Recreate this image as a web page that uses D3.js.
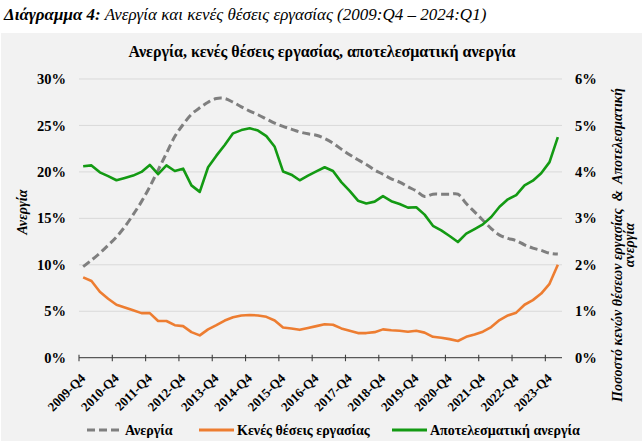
<!DOCTYPE html>
<html><head><meta charset="utf-8">
<script src="https://cdn.jsdelivr.net/npm/d3@7"></script>
<style>
html,body{margin:0;padding:0;background:#fff;}
</style></head>
<body>
<svg id="c" width="643" height="441"></svg>
<script>
const quarters = ["2009-Q4","2010-Q1","2010-Q2","2010-Q3","2010-Q4","2011-Q1","2011-Q2","2011-Q3","2011-Q4",
"2012-Q1","2012-Q2","2012-Q3","2012-Q4","2013-Q1","2013-Q2","2013-Q3","2013-Q4","2014-Q1","2014-Q2","2014-Q3","2014-Q4",
"2015-Q1","2015-Q2","2015-Q3","2015-Q4","2016-Q1","2016-Q2","2016-Q3","2016-Q4","2017-Q1","2017-Q2","2017-Q3","2017-Q4",
"2018-Q1","2018-Q2","2018-Q3","2018-Q4","2019-Q1","2019-Q2","2019-Q3","2019-Q4","2020-Q1","2020-Q2","2020-Q3","2020-Q4",
"2021-Q1","2021-Q2","2021-Q3","2021-Q4","2022-Q1","2022-Q2","2022-Q3","2022-Q4","2023-Q1","2023-Q2","2023-Q3","2023-Q4","2024-Q1"];
const tickLabels = ["2009-Q4","2010-Q4","2011-Q4","2012-Q4","2013-Q4","2014-Q4","2015-Q4","2016-Q4","2017-Q4","2018-Q4","2019-Q4","2020-Q4","2021-Q4","2022-Q4","2023-Q4"];
// Left axis (%)
const unemployment = [9.8,10.5,11.25,12.1,13.0,14.1,15.4,16.8,18.4,20.2,22.0,23.8,25.1,26.2,26.9,
27.5,27.9,27.9,27.5,27.0,26.55,26.15,25.7,25.25,24.9,24.6,24.3,24.1,23.95,
23.6,23.1,22.45,21.85,21.3,20.8,20.2,19.75,19.25,18.9,18.4,17.95,17.35,17.6,
17.6,17.6,17.6,16.6,15.7,14.8,13.9,13.2,12.85,12.6,12.15,11.8,11.55,11.25,11.15];
// Right axis (%)
const vacancies = [1.73,1.65,1.42,1.27,1.14,1.08,1.02,0.96,0.96,0.79,0.79,0.70,0.68,0.55,0.48,
0.61,0.70,0.80,0.87,0.91,0.92,0.91,0.88,0.80,0.65,0.63,0.60,0.64,0.68,
0.72,0.71,0.63,0.58,0.53,0.53,0.55,0.61,0.59,0.58,0.56,0.58,0.54,0.45,
0.43,0.40,0.36,0.45,0.50,0.56,0.66,0.81,0.91,0.97,1.14,1.24,1.38,1.59,2.0];
const effective = [4.12,4.14,3.99,3.91,3.82,3.87,3.92,4.0,4.15,3.95,4.14,4.02,4.07,3.71,3.57,
4.10,4.35,4.58,4.83,4.90,4.94,4.89,4.77,4.54,4.01,3.94,3.82,3.92,4.01,
4.10,4.02,3.78,3.59,3.38,3.32,3.36,3.48,3.37,3.31,3.23,3.24,3.08,2.84,
2.74,2.62,2.49,2.67,2.77,2.87,3.03,3.25,3.41,3.50,3.71,3.81,3.97,4.21,4.75];
const leftTicks = [0,5,10,15,20,25,30];
const rightTicks = [0,1,2,3,4,5,6];
const seriesNames = ["Ανεργία","Κενές θέσεις εργασίας","Αποτελεσματική ανεργία"];

const FONT = "'Liberation Serif', 'Times New Roman', serif";
const svg = d3.select("#c");
const L = 79, R = 562, T = 79, B = 357.7;

// background
svg.append("rect").attr("x",1).attr("y",33).attr("width",641).attr("height",408).attr("fill","#f2f2f2");

// main caption
const cap = svg.append("text").attr("x",4).attr("y",20).attr("font-size",17).attr("font-style","italic").attr("fill","#000");
cap.append("tspan").attr("font-weight","bold").text("Διάγραμμα 4:");
cap.append("tspan").text(" Ανεργία και κενές θέσεις εργασίας (2009:Q4 – 2024:Q1)");

// chart title
svg.append("text").attr("x",322).attr("y",57).attr("text-anchor","middle").attr("font-size",16)
  .attr("font-weight","bold").text("Ανεργία, κενές θέσεις εργασίας, αποτελεσματική ανεργία");

const x = d3.scaleBand().domain(quarters).range([L,R]).padding(0);
const bw = x.bandwidth();
const yL = d3.scaleLinear().domain([0,30]).range([B,T]);
const yR = d3.scaleLinear().domain([0,6]).range([B,T]);

// gridlines
svg.append("g").selectAll("line").data(leftTicks.filter(d=>d>0)).join("line")
  .attr("x1",L).attr("x2",R).attr("y1",d=>yL(d)).attr("y2",d=>yL(d))
  .attr("stroke","#d9d9d9").attr("stroke-width",1);

// left axis labels
const gl = svg.append("g").attr("transform",`translate(${L},0)`)
  .call(d3.axisLeft(yL).tickValues(leftTicks).tickSize(0).tickPadding(13).tickFormat(d=>d+"%"));
gl.select(".domain").remove();
gl.selectAll("text").attr("font-size",14.5).attr("font-weight","bold").attr("fill","#000");

// right axis labels
const gr = svg.append("g").attr("transform",`translate(${R},0)`)
  .call(d3.axisRight(yR).tickValues(rightTicks).tickSize(0).tickPadding(13).tickFormat(d=>d+"%"));
gr.select(".domain").remove();
gr.selectAll("text").attr("font-size",14.5).attr("font-weight","bold").attr("fill","#000");

// x axis
svg.append("line").attr("x1",L).attr("x2",R).attr("y1",B).attr("y2",B).attr("stroke","#595959").attr("stroke-width",1.2);
const gx = svg.append("g").attr("transform",`translate(${-bw/2},${B})`)
  .call(d3.axisBottom(x).tickValues(tickLabels).tickSize(4).tickPadding(0));
gx.select(".domain").remove();
gx.selectAll(".tick line").attr("y1",-3).attr("y2",3.5).attr("stroke","#404040").attr("stroke-width",1.1);
gx.selectAll(".tick text")
  .attr("font-size",13).attr("font-weight","bold").attr("fill","#000")
  .attr("text-anchor","end").attr("dy","0.35em")
  .attr("transform","translate(4,18) rotate(-45)").attr("y",0).attr("x",0);

// lines
const cx = (d,i)=>x(quarters[i])+bw/2;
svg.append("path").datum(unemployment)
  .attr("d",d3.line().x(cx).y(d=>yL(d)).curve(d3.curveCatmullRom.alpha(0.5)))
  .attr("fill","none").attr("stroke","#7f7f7f").attr("stroke-width",3).attr("stroke-dasharray","8,4");
svg.append("path").datum(vacancies)
  .attr("d",d3.line().x(cx).y(d=>yR(d)))
  .attr("fill","none").attr("stroke","#ed7d31").attr("stroke-width",2.6).attr("stroke-linejoin","round");
svg.append("path").datum(effective)
  .attr("d",d3.line().x(cx).y(d=>yR(d)))
  .attr("fill","none").attr("stroke","#139a13").attr("stroke-width",2.6).attr("stroke-linejoin","round");

// axis titles
svg.append("text").attr("transform","translate(27,212) rotate(-90)").attr("text-anchor","middle")
  .attr("font-size",14).attr("font-style","italic").attr("font-weight","bold").text("Ανεργία");
const rt = svg.append("text").attr("transform","translate(622,245) rotate(-90)").attr("text-anchor","middle")
  .attr("font-size",14).attr("font-style","italic").attr("font-weight","bold");
rt.append("tspan").attr("x",0).attr("y",0).style("white-space","pre").text("Ποσοστό κενών θέσεων εργασίας  &  Αποτελεσματική");
rt.append("tspan").attr("x",0).attr("y",12).text("ανεργία");

// legend
const legend = [
  {name:seriesNames[0], color:"#7f7f7f", dash:"8,4", x1:87, x2:120, tx:125},
  {name:seriesNames[1], color:"#ed7d31", dash:null, x1:199, x2:234, tx:237},
  {name:seriesNames[2], color:"#139a13", dash:null, x1:392, x2:427, tx:430}
];
const lg = svg.append("g");
legend.forEach(l=>{
  lg.append("line").attr("x1",l.x1).attr("x2",l.x2).attr("y1",430).attr("y2",430)
    .attr("stroke",l.color).attr("stroke-width",3).attr("stroke-dasharray",l.dash);
  lg.append("text").attr("x",l.tx).attr("y",434.5).attr("font-size",14).attr("font-weight","bold").text(l.name);
});

svg.selectAll("text").style("font-family",FONT);
</script>
</body></html>
